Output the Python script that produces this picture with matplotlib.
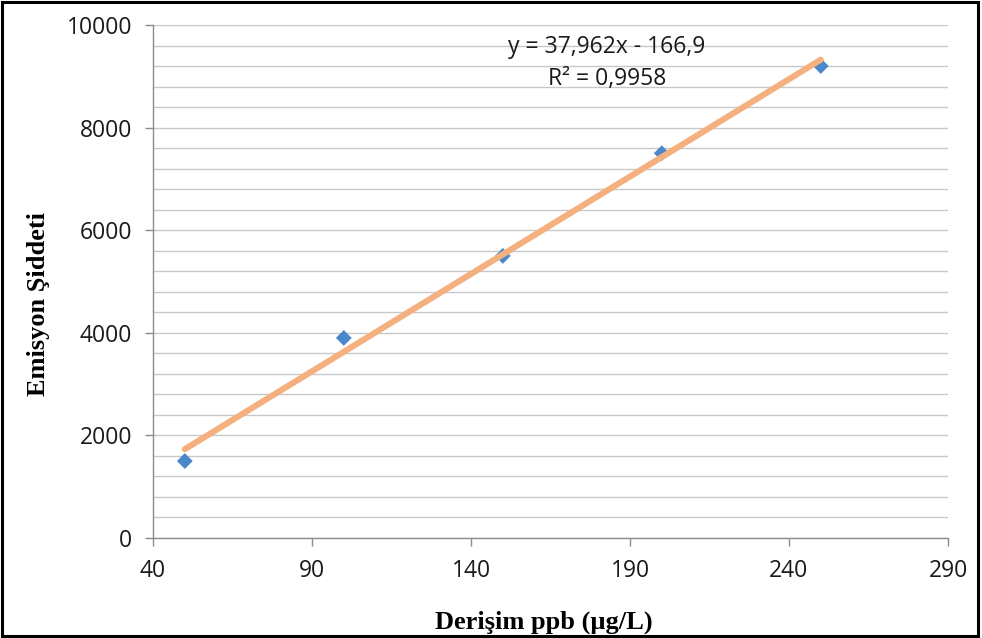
import numpy as np
import matplotlib
matplotlib.use("Agg")
import matplotlib.pyplot as plt
from matplotlib.patches import Rectangle
from matplotlib.ticker import MultipleLocator

# kalibrasyon verisi
derisim = [50, 100, 150, 200, 250]
siddet = [1500, 3900, 5500, 7500, 9200]
x_etiket = [40, 90, 140, 190, 240, 290]

# trend çizgisi (doğrusal)
egim = 37.962
kesim = -166.9
r2 = 0.9958

fig = plt.figure(figsize=(9.82, 6.38), dpi=100)
ax = fig.add_axes([153 / 982, 100 / 638, 795 / 982, 513 / 638])

grid_c = "#c8c8c8"
axis_c = "#8c8c8c"
yazi_c = "#1a1a1a"

# noktalar altta, trend çizgisi üstte
xs = np.array([derisim[0], derisim[-1]])
ax.scatter(derisim, siddet, marker="D", s=65, color="#4a88cc", edgecolors="none", zorder=2)
ax.plot(xs, egim * xs + kesim, color="#f5b07f", lw=4.4, solid_capstyle="round", zorder=3)

ax.set_xlim(40, 290)
ax.set_ylim(0, 10000)
ax.set_xticks(x_etiket)
ax.yaxis.set_major_locator(MultipleLocator(2000))
ax.yaxis.set_minor_locator(MultipleLocator(400))
ax.grid(axis="y", which="both", color=grid_c, lw=1.0)
ax.set_axisbelow(True)

for s in ("top", "right"):
    ax.spines[s].set_visible(False)
for s in ("left", "bottom"):
    ax.spines[s].set_color(axis_c)
    ax.spines[s].set_linewidth(1.0)
ax.tick_params(which="major", length=6, width=1, color=axis_c, pad=9,
               labelsize=16.5, labelcolor=yazi_c)
ax.tick_params(which="minor", length=0)
for lab in ax.get_xticklabels() + ax.get_yticklabels():
    lab.set_family("Open Sans")

ax.set_xlabel("Derişim ppb (µg/L)", family="Liberation Serif", fontweight="bold",
              fontsize=19, labelpad=20)
ax.set_ylabel("Emisyon Şiddeti", family="Liberation Serif", fontweight="bold",
              fontsize=19, labelpad=12)
ax.xaxis.label.set_x(0.492)
ax.yaxis.label.set_y(0.456)

eq = f"y = {egim:.3f}x - {abs(kesim):.1f}".replace(".", ",")
ax.text(0.571, 0.957, eq, transform=ax.transAxes, ha="center", va="center",
        family="Open Sans", fontsize=16.5, color=yazi_c)
ax.text(0.571, 0.895, f"R² = {r2:.4f}".replace(".", ","), transform=ax.transAxes,
        ha="center", va="center", family="Open Sans", fontsize=16.5, color=yazi_c)

fig.patches.append(Rectangle((0.002, 0.003), 0.994, 0.994, transform=fig.transFigure,
                             fill=False, edgecolor="black", lw=2.2))

fig.savefig("out.png", dpi=100)
